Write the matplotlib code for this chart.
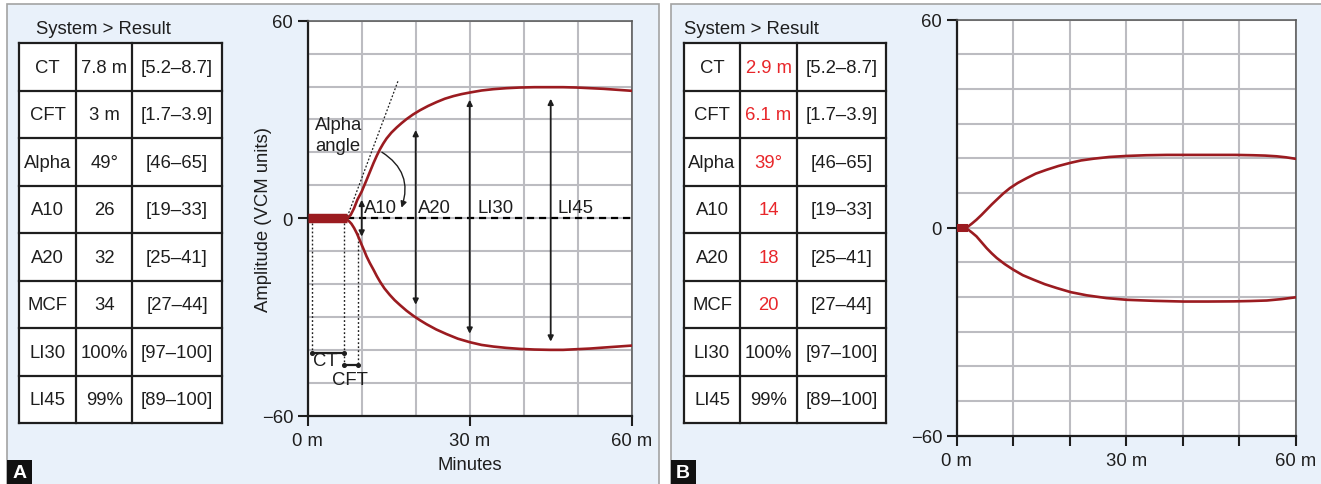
import matplotlib
matplotlib.use("Agg")
import matplotlib.pyplot as plt
from matplotlib.patches import Rectangle, FancyArrowPatch

plt.rcParams["font.family"] = ["Liberation Sans", "DejaVu Sans"]
plt.rcParams["font.size"] = 13.3

# ---- table contents -------------------------------------------------------
params = ["CT", "CFT", "Alpha", "A10", "A20", "MCF", "LI30", "LI45"]
results_a = ["7.8 m", "3 m", "49°", "26", "32", "34", "100%", "99%"]
results_b = ["2.9 m", "6.1 m", "39°", "14", "18", "20", "100%", "99%"]
ref_ranges = ["[5.2–8.7]", "[1.7–3.9]", "[46–65]", "[19–33]",
              "[25–41]", "[27–44]", "[97–100]", "[89–100]"]
abnormal_b = [True, True, True, True, True, True, False, False]

# ---- panel A trace (normal) ----------------------------------------------
a_bar_end = 7.35
a_upper_t = [7.35, 7.96, 8.58, 9.2, 10.0, 10.9, 11.5, 12.2, 12.8, 13.4, 14.0,
             14.6, 15.5, 16.5, 17.4, 18.3, 19.5, 20.8, 22.3, 23.9, 25.4, 27.0,
             28.5, 30.1, 32.2, 34.4, 36.8, 39.3, 42.0, 44.9, 47.3, 49.8, 52.3,
             54.8, 57.4, 60.0]
a_upper_amp = [0.0, 1.0, 3.0, 5.6, 8.1, 11.6, 14.0, 16.8, 19.0, 21.0, 22.7,
               24.2, 26.0, 27.6, 28.9, 30.1, 31.5, 32.8, 34.1, 35.3, 36.3,
               37.1, 37.7, 38.2, 38.8, 39.2, 39.5, 39.7, 39.8, 39.8, 39.8,
               39.7, 39.5, 39.3, 39.0, 38.7]
a_lower_t = [7.35, 7.7, 8.1, 8.6, 9.1, 9.55, 10.0, 10.45, 10.9, 11.5, 12.2,
             12.8, 13.4, 14.2, 15.2, 16.1, 17.1, 18.3, 19.6, 20.8, 22.0, 23.8,
             25.7, 27.8, 30.1, 32.2, 34.4, 36.8, 39.3, 42.0, 44.9, 47.3, 49.8,
             52.3, 54.8, 57.4, 60.0]
a_lower_amp = [-0.5, -1.0, -1.7, -3.0, -4.6, -6.3, -8.1, -9.8, -11.6, -13.6,
               -15.7, -17.6, -19.3, -21.3, -23.3, -24.9, -26.4, -28.1, -29.7,
               -31.0, -32.2, -33.8, -35.2, -36.6, -37.7, -38.5, -39.0, -39.4,
               -39.7, -39.9, -40.0, -40.0, -39.8, -39.6, -39.3, -39.0, -38.7]

# measurement arrows: label, time, top, bottom, label x
arrow_labels = ["A10", "A20", "LI30", "LI45"]
arrow_times = [10.0, 20.0, 30.0, 45.0]
arrow_tops = [5.6, 26.8, 36.0, 36.3]
arrow_bottoms = [-5.6, -26.3, -35.1, -37.5]
arrow_label_x = [10.4, 20.4, 31.4, 46.3]

# CT / CFT markers
ct_start, ct_end, cft_end = 0.8, 6.7, 9.4
ct_level, cft_level = -40.8, -44.6

# alpha tangent
tangent_t = [7.35, 16.8]
tangent_amp = [0.5, 42.0]

# ---- panel B trace (hypocoagulable) --------------------------------------
b_bar_end = 2.06
b_upper_t = [2.06, 2.7, 3.5, 4.4, 5.3, 6.2, 7.1, 8.2, 9.4, 10.8, 12.4, 14.0,
             15.9, 18.0, 20.1, 22.0, 24.2, 27.0, 30.1, 33.5, 37.2, 41.5,
             46.0, 49.3, 52.5, 54.6, 56.6, 58.3, 59.9]
b_upper_amp = [0.4, 1.2, 2.3, 3.7, 5.2, 6.7, 8.1, 9.8, 11.4, 12.9, 14.3, 15.6,
               16.7, 17.8, 18.7, 19.4, 19.9, 20.4, 20.7, 20.9, 21.0, 21.0,
               21.0, 21.0, 20.9, 20.8, 20.6, 20.3, 19.9]
b_lower_t = [2.06, 2.7, 3.5, 4.4, 5.3, 6.2, 7.1, 8.5, 10.0, 11.7, 13.6, 15.6,
             17.7, 20.2, 23.0, 26.5, 30.1, 35.0, 40.1, 44.5, 49.0, 52.0, 54.9,
             57.5, 59.9]
b_lower_amp = [-0.6, -1.4, -2.5, -4.2, -5.9, -7.4, -8.75, -10.5, -12.1,
               -13.7, -15.0, -16.3, -17.4, -18.6, -19.5, -20.3, -20.8, -21.1,
               -21.3, -21.3, -21.25, -21.15, -21.0, -20.6, -20.1]

TRACE = "#9b1b20"
GRID = "#bcbcc1"
PANEL_BG = "#e9f1fa"
RED_TXT = "#e8262a"
INK = "#1e1e1e"

W, H = 1321, 485
fig = plt.figure(figsize=(W / 100, H / 100), dpi=100)
fig.patch.set_facecolor("white")

# pixel-space background layer for panels and tables
bg = fig.add_axes([0, 0, 1, 1], zorder=0)
bg.set_xlim(0, W)
bg.set_ylim(H, 0)
bg.axis("off")

bg.add_patch(Rectangle((6.5, 5), 652.5, 490, facecolor=PANEL_BG,
                       edgecolor="#a3a3a3", lw=1.2))
bg.add_patch(Rectangle((670.5, 5), 660, 490, facecolor=PANEL_BG,
                       edgecolor="#a3a3a3", lw=1.2))

for letter, x0 in (("A", 7), ("B", 670.5)):
    bg.add_patch(Rectangle((x0, 460.5), 25, 25, facecolor="#111111",
                           edgecolor="none"))
    bg.text(x0 + 12.5, 473.5, letter, color="white", fontsize=14,
            fontweight="bold", ha="center", va="center")


def draw_table(col_x, title_x, values, red_flags):
    row_top, row_h = 44.3, 47.5
    n = len(params)
    bg.add_patch(Rectangle((col_x[0], row_top), col_x[-1] - col_x[0],
                           row_h * n, facecolor="white", edgecolor="none"))
    bg.text(title_x, 29.3, "System > Result", ha="left", va="center",
            color=INK)
    for i in range(n + 1):
        y = row_top + i * row_h
        bg.plot([col_x[0], col_x[-1]], [y, y], color=INK, lw=1.6,
                solid_capstyle="projecting")
    for x in col_x:
        bg.plot([x, x], [row_top, row_top + n * row_h], color=INK, lw=1.6,
                solid_capstyle="projecting")
    for i in range(n):
        yc = row_top + (i + 0.5) * row_h
        cells = [params[i], values[i], ref_ranges[i]]
        for j, txt in enumerate(cells):
            xc = (col_x[j] + col_x[j + 1]) / 2
            color = RED_TXT if (j == 1 and red_flags[i]) else INK
            bg.text(xc, yc, txt, ha="center", va="center", color=color)


draw_table([19.3, 76.0, 132.3, 221.7], 36.0, results_a, [False] * 8)
draw_table([684.0, 740.0, 797.0, 886.0], 684.0, results_b, abnormal_b)


def style_axes(ax, major_x, xlabels):
    ax.set_facecolor("white")
    ax.set_xlim(0, 60)
    ax.set_ylim(-60, 60)
    ax.set_xticks(major_x)
    ax.set_xticklabels(xlabels)
    ax.set_xticks(range(0, 61, 10), minor=True)
    ax.set_yticks([-60, 0, 60])
    ax.set_yticklabels(["−60", "0", "60"])
    ax.set_yticks(range(-60, 61, 10), minor=True)
    ax.grid(True, which="both", color=GRID, lw=1.5)
    ax.set_axisbelow(True)
    ax.tick_params(which="major", length=7.5, width=1.5, pad=3,
                   colors=INK, labelsize=13.3)
    ax.tick_params(axis="x", which="major", pad=4)
    ax.tick_params(which="minor", length=0)
    for side in ("left", "bottom"):
        ax.spines[side].set_color(INK)
        ax.spines[side].set_linewidth(1.6)
    for side in ("top", "right"):
        ax.spines[side].set_color("#555555")
        ax.spines[side].set_linewidth(1.1)


# ---- panel A chart --------------------------------------------------------
axA = fig.add_axes([307.7 / W, (H - 416.7) / H, 324 / W, 395 / H], zorder=2)
style_axes(axA, [0, 30, 60], ["0 m", "30 m", "60 m"])
axA.set_xlabel("Minutes", color=INK)
axA.xaxis.set_label_coords(0.5, -0.103)
axA.set_ylabel("Amplitude (VCM units)", color=INK)
axA.yaxis.set_label_coords(-0.11, 0.5)

axA.plot([a_bar_end, 60], [0, 0], color="black", lw=1.6,
         linestyle=(0, (3.2, 2.2)), zorder=3)
axA.plot([0, a_bar_end], [0, 0], color=TRACE, lw=6.8,
         solid_capstyle="butt", zorder=4)
axA.plot(a_upper_t, a_upper_amp, color=TRACE, lw=1.9, zorder=4,
         solid_joinstyle="round")
axA.plot(a_lower_t, a_lower_amp, color=TRACE, lw=1.9, zorder=4,
         solid_joinstyle="round")

axA.plot(tangent_t, tangent_amp, color=INK, lw=0.9, linestyle=(0, (1.5, 1.5)),
         zorder=3)

for lab, t, top, bot, lx in zip(arrow_labels, arrow_times, arrow_tops,
                                arrow_bottoms, arrow_label_x):
    axA.annotate("", xy=(t, top), xytext=(t, bot),
                 arrowprops=dict(arrowstyle="<|-|>", color=INK, lw=1.3,
                                 mutation_scale=8, shrinkA=0, shrinkB=0),
                 zorder=5)
    axA.text(lx, 3.3, lab, ha="left", va="center", color=INK, zorder=6)

axA.text(1.35, 25.3, "Alpha\nangle", ha="left", va="center", color=INK,
         linespacing=1.3)
axA.add_patch(FancyArrowPatch((13.3, 20.5), (17.2, 2.4),
                              connectionstyle="arc3,rad=-0.42",
                              arrowstyle="-|>", mutation_scale=9,
                              color=INK, lw=1.0, zorder=5))

# CT / CFT drop lines and brackets
for x, y_end in ((ct_start, ct_level), (ct_end, cft_level)):
    axA.plot([x, x], [-1.5, y_end], color=INK, lw=1.0,
             linestyle=(0, (1.3, 1.6)), zorder=3)
axA.plot([cft_end, cft_end], [-4.5, cft_level], color=INK, lw=1.0,
         linestyle=(0, (1.3, 1.6)), zorder=3)
axA.plot([ct_start, ct_end], [ct_level, ct_level], color=INK, lw=1.6,
         marker="o", markersize=2.6, zorder=5)
axA.plot([ct_end, cft_end], [cft_level, cft_level], color=INK, lw=1.6,
         marker="o", markersize=2.6, zorder=5)
axA.text(3.3, -43.1, "CT", ha="center", va="center", color=INK, zorder=6)
axA.text(7.9, -48.9, "CFT", ha="center", va="center", color=INK, zorder=6)

# ---- panel B chart --------------------------------------------------------
axB = fig.add_axes([956.7 / W, (H - 436.7) / H, 339 / W, 416 / H], zorder=2)
style_axes(axB, list(range(0, 61, 10)),
           ["0 m", "", "", "30 m", "", "", "60 m"])
axB.plot([0, b_bar_end], [0, 0], color=TRACE, lw=5.8,
         solid_capstyle="butt", zorder=4)
axB.plot(b_upper_t, b_upper_amp, color=TRACE, lw=1.9, zorder=4,
         solid_joinstyle="round")
axB.plot(b_lower_t, b_lower_amp, color=TRACE, lw=1.9, zorder=4,
         solid_joinstyle="round")

fig.savefig("out.png", dpi=100, facecolor="white")
